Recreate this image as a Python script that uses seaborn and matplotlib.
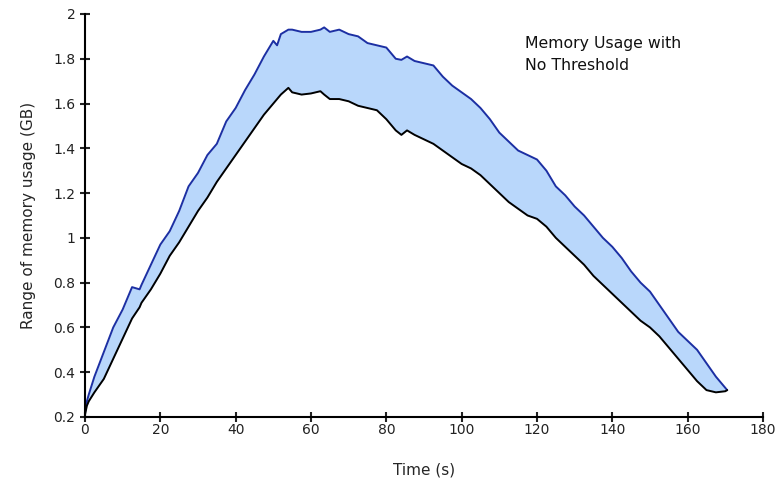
import numpy as np
import pandas as pd
import matplotlib
matplotlib.use('Agg')
import matplotlib.pyplot as plt
import seaborn as sns

# Datos (tiempo en s, memoria en GB)
tiempo = [0, 0.5, 1, 2.5, 5, 7.5, 10, 12.5, 14.5, 15, 17.5, 20, 22.5, 25, 27.5, 30,
          32.5, 35, 37.5, 40, 42.5, 45, 47.5, 50, 51, 52, 54, 55, 57.5, 60, 62.5,
          63.5, 65, 67.5, 70, 72.5, 75, 77.5, 80, 82.5, 84, 85.5, 87.5, 90, 92.5,
          95, 97.5, 100, 102.5, 105, 107.5, 110, 112.5, 115, 117.5, 120, 122.5,
          125, 127.5, 130, 132.5, 135, 137.5, 140, 142.5, 145, 147.5, 150, 152.5,
          155, 157.5, 160, 162.5, 165, 167.5, 170, 170.5]

mem_max = [0.22, 0.27, 0.30, 0.38, 0.49, 0.60, 0.68, 0.78, 0.77, 0.79, 0.88, 0.97,
           1.03, 1.12, 1.23, 1.29, 1.37, 1.42, 1.52, 1.58, 1.66, 1.73, 1.81, 1.88,
           1.86, 1.91, 1.93, 1.93, 1.92, 1.92, 1.93, 1.94, 1.92, 1.93, 1.91, 1.90,
           1.87, 1.86, 1.85, 1.80, 1.795, 1.81, 1.79, 1.78, 1.77, 1.72, 1.68, 1.65,
           1.62, 1.58, 1.53, 1.47, 1.43, 1.39, 1.37, 1.35, 1.30, 1.23, 1.19, 1.14,
           1.10, 1.05, 1.00, 0.96, 0.91, 0.85, 0.80, 0.76, 0.70, 0.64, 0.58, 0.54,
           0.50, 0.44, 0.38, 0.33, 0.32]

mem_min = [0.21, 0.25, 0.27, 0.31, 0.37, 0.46, 0.55, 0.64, 0.69, 0.71, 0.77, 0.84,
           0.92, 0.98, 1.05, 1.12, 1.18, 1.25, 1.31, 1.37, 1.43, 1.49, 1.55, 1.60,
           1.62, 1.64, 1.67, 1.65, 1.64, 1.645, 1.655, 1.64, 1.62, 1.62, 1.61, 1.59,
           1.58, 1.57, 1.53, 1.48, 1.46, 1.48, 1.46, 1.44, 1.42, 1.39, 1.36, 1.33,
           1.31, 1.28, 1.24, 1.20, 1.16, 1.13, 1.10, 1.085, 1.05, 1.00, 0.96, 0.92,
           0.88, 0.83, 0.79, 0.75, 0.71, 0.67, 0.63, 0.60, 0.56, 0.51, 0.46, 0.41,
           0.36, 0.32, 0.31, 0.315, 0.32]

x_ticks = [0, 20, 40, 60, 80, 100, 120, 140, 160, 180]
x_labels = ['0', '20', '40', '60', '80', '100', '120', '140', '160', '180']
y_ticks = [0.2, 0.4, 0.6, 0.8, 1.0, 1.2, 1.4, 1.6, 1.8, 2.0]
y_labels = ['0.2', '0.4', '0.6', '0.8', '1', '1.2', '1.4', '1.6', '1.8', '2']

df = pd.DataFrame({'Tiempo': tiempo, 'Max': mem_max, 'Min': mem_min})

sns.set_style('ticks')
plt.rcParams['font.family'] = ['DejaVu Sans']

fig = plt.figure(figsize=(7.84, 4.8), dpi=100)
ax = fig.add_axes([0.1084, 0.1313, 0.8648, 0.8396])

# Relleno entre minimo y maximo
ax.fill_between(df['Tiempo'], df['Min'], df['Max'], color='#b9d7fb', linewidth=0)
sns.lineplot(data=df, x='Tiempo', y='Max', color='#1c2fa3', linewidth=1.4, ax=ax)
sns.lineplot(data=df, x='Tiempo', y='Min', color='black', linewidth=1.4, ax=ax)

ax.set_xlim(0, 180)
ax.set_ylim(0.2, 2)
ax.set_xticks(x_ticks)
ax.set_xticklabels(x_labels)
ax.set_yticks(y_ticks)
ax.set_yticklabels(y_labels)
ax.tick_params(direction='inout', length=7, width=1.5, labelsize=10, colors='#222222')
ax.tick_params(axis='x', pad=1)
for s in ['top', 'right']:
    ax.spines[s].set_visible(False)
for s in ['left', 'bottom']:
    ax.spines[s].set_linewidth(1.5)
    ax.spines[s].set_color('black')

ax.set_xlabel('Time (s)', fontsize=11, labelpad=18)
ax.set_ylabel('Range of memory usage (GB)', fontsize=11, labelpad=12)

ax.text(0.649, 0.946, 'Memory Usage with\nNo Threshold', transform=ax.transAxes,
        fontsize=11.3, va='top', ha='left', color='#111111', linespacing=1.6)

fig.savefig('out.png', dpi=100)
